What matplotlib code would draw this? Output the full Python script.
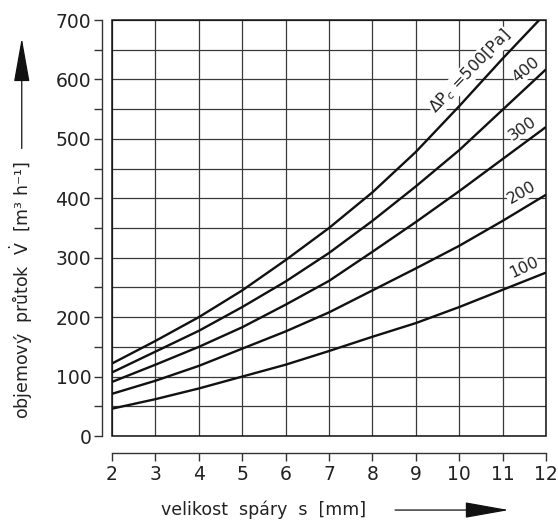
import numpy as np
import matplotlib
matplotlib.use("Agg")
import matplotlib.pyplot as plt
from matplotlib.patches import Rectangle, FancyArrowPatch

# spara s [mm]
s = [2, 3, 4, 5, 6, 7, 8, 9, 10, 11, 12]
# prutok pro jednotlive tlakove rozdily [m3/h]
q100 = [46, 62, 80, 100, 120, 143, 167, 190, 217, 246, 275]
q200 = [71, 93, 118, 147, 176, 208, 245, 282, 320, 362, 406]
q300 = [91, 120, 150, 183, 221, 261, 310, 360, 412, 466, 520]
q400 = [107, 142, 177, 217, 260, 308, 362, 420, 481, 549, 617]
q500 = [122, 160, 200, 245, 296, 350, 410, 478, 555, 635, 712]
curves = [q100, q200, q300, q400, q500]

labels = ["100", "200", "300", "400", "ΔP$_c$ =500[Pa]"]
label_x = [11.49, 11.45, 11.45, 11.55, 10.25]
label_y = [284, 409, 518, 616, 614]
label_rot = [25, 30, 35, 40, 46]

fig = plt.figure(figsize=(5.58, 5.21), dpi=100)
ax = fig.add_axes([0.2007, 0.1631, 0.7778, 0.7985])

for q in curves:
    ax.plot(s, q, color="#111111", lw=1.7, zorder=3, solid_capstyle="butt")

ax.set_xlim(2, 12)
ax.set_ylim(0, 700)

ax.set_xticks(range(2, 13))
ax.set_yticks(range(0, 701, 100))
ax.set_yticks(range(50, 700, 100), minor=True)
ax.grid(True, which="both", color="#3a3a3a", lw=0.9, zorder=1)
ax.add_patch(Rectangle((0, 0), 1, 1, transform=ax.transAxes, fill=False,
                       ec="#111111", lw=1.1, zorder=2, clip_on=False))

for side in ["top", "right"]:
    ax.spines[side].set_visible(False)
ax.spines["left"].set_position(("outward", 7))
ax.spines["bottom"].set_position(("outward", 12))
for side in ["left", "bottom"]:
    ax.spines[side].set_linewidth(1.0)
    ax.spines[side].set_color("#333333")

ax.tick_params(axis="y", which="both", length=6, width=1.0, color="#333333",
               labelsize=13.5, pad=2, labelcolor="#222222")
ax.tick_params(axis="x", which="both", length=6, width=1.0, color="#333333",
               labelsize=13.5, pad=3, labelcolor="#222222")

for t, x, y, r in zip(labels, label_x, label_y, label_rot):
    ax.text(x, y, t, rotation=r, ha="center", va="center", fontsize=11.5,
            color="#222222", zorder=4, rotation_mode="anchor",
            bbox=dict(fc="white", ec="none", pad=0.5))

# popisky os se sipkami
fig.text(0.039, 0.443, r"objemový  průtok  $\dot{\mathrm{V}}$  [m³ h⁻¹]", rotation=90,
         ha="center", va="center", fontsize=12.5, color="#222222")
fig.text(0.473, 0.021, "velikost  spáry  s  [mm]", ha="center", va="center",
         fontsize=12.5, color="#222222")
for start, end in [((0.039, 0.715), (0.039, 0.927)),
                   ((0.708, 0.021), (0.912, 0.021))]:
    fig.patches.append(FancyArrowPatch(
        start, end, transform=fig.transFigure, shrinkA=0, shrinkB=0,
        arrowstyle="-|>,head_length=1.4,head_width=0.25", color="#111111",
        lw=0.9, mutation_scale=20))

fig.savefig("out.png", dpi=100)
